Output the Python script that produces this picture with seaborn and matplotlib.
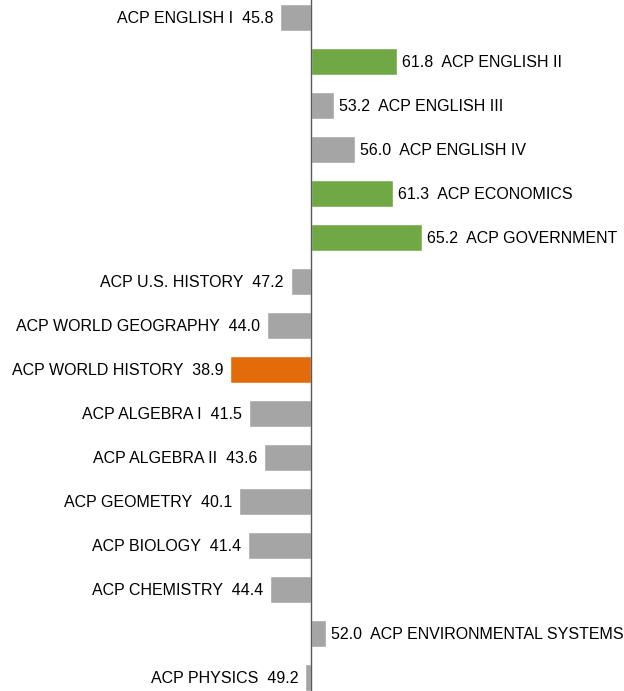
import pandas as pd
import matplotlib.pyplot as plt
import seaborn as sns

# --- data ---
SUBJECTS = ['ACP ENGLISH I', 'ACP ENGLISH II', 'ACP ENGLISH III', 'ACP ENGLISH IV',
            'ACP ECONOMICS', 'ACP GOVERNMENT', 'ACP U.S. HISTORY', 'ACP WORLD GEOGRAPHY',
            'ACP WORLD HISTORY', 'ACP ALGEBRA I', 'ACP ALGEBRA II', 'ACP GEOMETRY',
            'ACP BIOLOGY', 'ACP CHEMISTRY', 'ACP ENVIRONMENTAL SYSTEMS', 'ACP PHYSICS']
SCORES = [45.8, 61.8, 53.2, 56.0, 61.3, 65.2, 47.2, 44.0,
          38.9, 41.5, 43.6, 40.1, 41.4, 44.4, 52.0, 49.2]
GROUP = ['other', 'high', 'other', 'other', 'high', 'high', 'other', 'other',
         'low', 'other', 'other', 'other', 'other', 'other', 'other', 'other']
BASELINE = 50

COLORS = {'other': '#A5A5A5', 'high': '#70A845', 'low': '#E36C0A'}

df = pd.DataFrame({'subject': SUBJECTS, 'score': SCORES, 'group': GROUP})
df['delta'] = df['score'] - BASELINE

sns.set_style('white')
plt.rcParams['font.family'] = ['Liberation Sans', 'DejaVu Sans']

fig = plt.figure(figsize=(6.24, 6.91), dpi=100)
ax = fig.add_axes([0, 0, 1, 1])

sns.barplot(data=df, y='subject', x='delta', hue='subject', orient='h',
            palette=[COLORS[g] for g in GROUP], width=0.61, legend=False,
            saturation=1, ax=ax)

# baseline line
ax.axvline(0, color='#595959', lw=1)

# labels beside each bar
for i, (name, val, d) in enumerate(zip(SUBJECTS, SCORES, df['delta'])):
    if d >= 0:
        ax.annotate(f'{val:.1f}  {name}', xy=(d, i), xytext=(5, -1),
                    textcoords='offset pixels', ha='left', va='center',
                    fontsize=11.5, color='black', annotation_clip=False)
    else:
        ax.annotate(f'{name}  {val:.1f}', xy=(d, i), xytext=(-7, -1),
                    textcoords='offset pixels', ha='right', va='center',
                    fontsize=11.5, color='black', annotation_clip=False)

ax.set_xlim(7.34 - BASELINE, 92.94 - BASELINE)
ax.set_ylim(15.307, -0.398)
ax.set_axis_off()

fig.savefig('out.png', dpi=100)
